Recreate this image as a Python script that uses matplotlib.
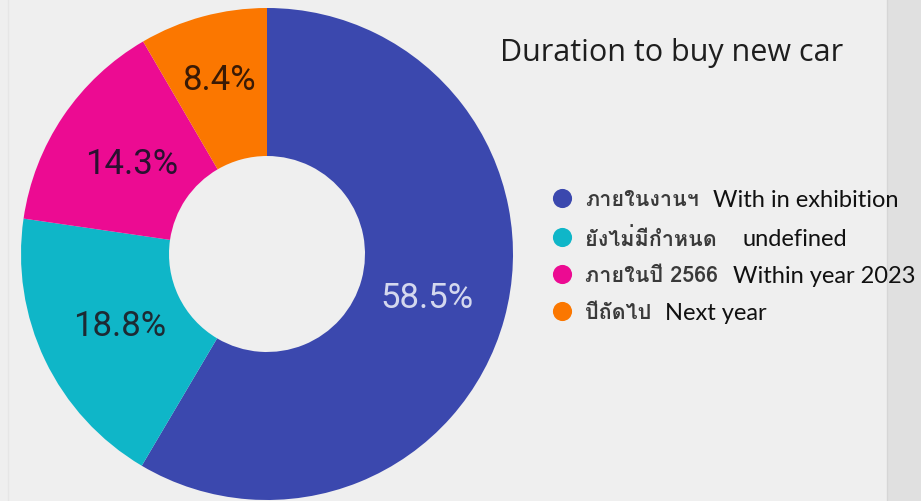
import matplotlib
matplotlib.use('Agg')
import matplotlib.pyplot as plt
from matplotlib import font_manager
from matplotlib.ft2font import FT2Font
from matplotlib.patches import Rectangle

# data
shares = [58.5, 18.8, 14.3, 8.4]
pct_labels = ['58.5%', '18.8%', '14.3%', '8.4%']
names_th = ['ภายในงานฯ', 'ยังไม่มีกำหนด', 'ภายในปี 2566', 'ปีถัดไป']
names_en = ['With in exhibition', 'undefined', 'Within year 2023', 'Next year']
colors = ['#3b48ae', '#0fb6c8', '#ec0b92', '#fb7700']
title = 'Duration to buy new car'


def find_thai_font():
    # first installed font that actually has Thai glyphs
    for f in font_manager.fontManager.ttflist:
        try:
            if 0x0E20 in FT2Font(f.fname).get_charmap():
                return f.name
        except Exception:
            pass
    return None


thai = find_thai_font()
thai_family = [thai, 'DejaVu Sans'] if thai else ['DejaVu Sans']

W, H = 921, 502
fig = plt.figure(figsize=(W / 100, H / 100), dpi=100)
fig.patch.set_facecolor('#efefef')
ax = fig.add_axes([0, 0, 1, 1])

# axes in pixel units, y pointing down -> start at -90 and go "counterclock"
# in data space so it shows clockwise from 12 o'clock
cx, cy, r_out, r_in = 267, 255, 246, 98
wedges, _ = ax.pie(shares, colors=colors, startangle=-90, counterclock=True,
                   center=(cx, cy), radius=r_out,
                   wedgeprops=dict(width=r_out - r_in, linewidth=0))
ax.set_xlim(0, W)
ax.set_ylim(H, 0)
ax.set_aspect('equal')
ax.axis('off')

# right side panel strip
ax.add_patch(Rectangle((887, 0), W - 887, H, facecolor='#e0e0e0', edgecolor='none'))
ax.plot([887, 887], [0, H], color='#d6d6d6', lw=1)
ax.plot([8, 8], [0, H], color='#e6e6e6', lw=1)

# percent labels (google charts puts them off the mid-angle)
label_pos = [(427, 299), (120, 327), (132, 165), (219, 80)]
label_col = ['#d4d8ee', '#1d2a33', '#2a1030', '#3a1a05']
for txt, (x, y), c in zip(pct_labels, label_pos, label_col):
    ax.text(x, y, txt, ha='center', va='center', fontsize=25,
            family='Roboto', color=c)

ax.text(500, 53, title, ha='left', va='center', fontsize=22,
        family='Open Sans', color='#1e1e1e')

# legend
row_y = [199, 238, 275, 312]
en_x = [713, 743, 733, 665]
for i in range(len(shares)):
    ax.scatter([562], [row_y[i]], s=190, color=colors[i], zorder=3, linewidths=0)
    ax.text(585, row_y[i] + 1, names_th[i], ha='left', va='center', fontsize=15.5,
            weight='bold', family=thai_family, color='#3a3a3a')
    ax.text(en_x[i], row_y[i] + 2, names_en[i], ha='left', va='center',
            fontsize=17, family='Lato', color='#111111')

fig.savefig('out.png', dpi=100, facecolor=fig.get_facecolor())
